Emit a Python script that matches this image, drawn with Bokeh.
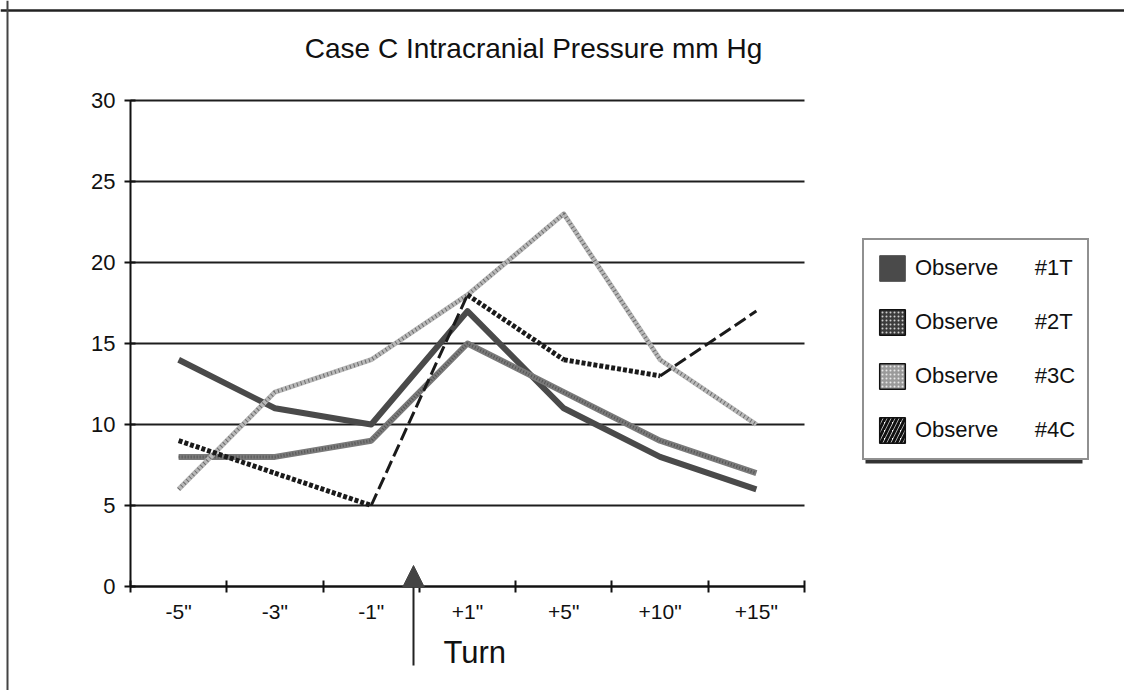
from bokeh.plotting import figure
from bokeh.models import (Range1d, FixedTicker, Legend, LegendItem, Label, Arrow,
                          NormalHead, BoxAnnotation, Span, ColumnDataSource, Grid)
from bokeh.embed import file_html
from bokeh.resources import INLINE

# ---- data -------------------------------------------------------------
categories = ['-5"', '-3"', '-1"', '+1"', '+5"', '+10"', '+15"']
obs_1t = [14, 11, 10, 17, 11, 8, 6]
obs_2t = [8, 8, 9, 15, 12, 9, 7]
obs_3c = [6, 12, 14, 18, 23, 14, 10]
obs_4c = [9, 7, 5, 18, 14, 13, 17]
y_ticks = [0, 5, 10, 15, 20, 25, 30]
series_names = ["#1T", "#2T", "#3C", "#4C"]
title_text = "Case C Intracranial Pressure mm Hg"
turn_text = "Turn"

FONT = "Liberation Sans"

# ---- page geometry (pixels) -------------------------------------------
W, H = 1124, 690
AX_L, AX_R, AX_T, AX_B = 130, 804, 100, 586   # where the chart axes sit
Y_MAX = 30
N = len(categories)

def px_x(px):
    """Page x pixel -> data x."""
    return (px - AX_L) * N / (AX_R - AX_L)

def px_y(py):
    """Page y pixel -> data y."""
    return (AX_B - py) * Y_MAX / (AX_B - AX_T)

xc = [i + 0.5 for i in range(N)]  # category centres

# the plotting frame fills the whole page; axes are pinned at x=0 / y=0
p = figure(width=W, height=H, output_backend="svg", toolbar_location=None,
           x_range=Range1d(px_x(0), px_x(W)), y_range=Range1d(px_y(H), px_y(0)),
           min_border=0, background_fill_color="white",
           border_fill_color="white", outline_line_color=None)

# ---- axes ---------------------------------------------------------------
xa = p.xaxis[0]
xa.fixed_location = 0
xa.bounds = (0, N)
xa.ticker = FixedTicker(ticks=xc, minor_ticks=list(range(N + 1)))
xa.major_label_overrides = {x: c for x, c in zip(xc, categories)}
xa.major_tick_in = 0
xa.major_tick_out = 0
xa.minor_tick_in = 6
xa.minor_tick_out = 6
xa.minor_tick_line_color = "#111"
xa.minor_tick_line_width = 2
xa.axis_line_color = "#111"
xa.axis_line_width = 2
xa.major_label_standoff = 7
xa.major_label_text_font = FONT
xa.major_label_text_font_size = "21px"
xa.major_label_text_color = "#111"

ya = p.yaxis[0]
ya.fixed_location = 0
ya.bounds = (0, Y_MAX)
ya.ticker = FixedTicker(ticks=y_ticks)
ya.minor_tick_line_color = None
ya.major_tick_in = 5
ya.major_tick_out = 6
ya.major_tick_line_color = "#111"
ya.major_tick_line_width = 2
ya.axis_line_color = "#111"
ya.axis_line_width = 2
ya.major_label_standoff = 9
ya.major_label_text_font = FONT
ya.major_label_text_font_size = "22px"
ya.major_label_text_color = "#111"

p.xgrid.visible = False
yg = p.ygrid[0]
yg.grid_line_color = "#1e1e1e"
yg.grid_line_width = 2
if "cross_bounds" in Grid.properties():
    yg.cross_bounds = (0, N)
else:
    yg.visible = False
    p.segment(x0=[0] * len(y_ticks), x1=[N] * len(y_ticks), y0=y_ticks, y1=y_ticks,
              line_color="#1e1e1e", line_width=2)

# ---- series -------------------------------------------------------------
p.line(xc, obs_1t, line_color="#4a4a4a", line_width=6, line_join="round")
p.line(xc, obs_2t, line_color="#7a7a7a", line_width=6, line_join="round")
p.line(xc, obs_2t, line_color="#555555", line_width=3, line_dash="1 2")
p.line(xc, obs_3c, line_color="#b8b8b8", line_width=5, line_join="round")
p.line(xc, obs_3c, line_color="#6a6a6a", line_width=4, line_dash="1 3")

# #4C uses a diagonal-stripe pen: rising runs look like long slashes,
# falling runs look like heavy dots
rise = dict(x0=[], y0=[], x1=[], y1=[])
fall = dict(x0=[], y0=[], x1=[], y1=[])
for i in range(N - 1):
    d = rise if obs_4c[i + 1] > obs_4c[i] else fall
    d["x0"].append(xc[i]); d["y0"].append(obs_4c[i])
    d["x1"].append(xc[i + 1]); d["y1"].append(obs_4c[i + 1])
p.segment(x0="x0", y0="y0", x1="x1", y1="y1", source=ColumnDataSource(fall),
          line_color="#1a1a1a", line_width=5, line_dash="4 2")
p.segment(x0="x0", y0="y0", x1="x1", y1="y1", source=ColumnDataSource(rise),
          line_color="#1a1a1a", line_width=3, line_dash="13 5")

# ---- legend -------------------------------------------------------------
def swatch(**kw):
    # one undrawable (NaN) row so the legend has styling to sample
    src = ColumnDataSource(dict(x=[float("nan")], y=[float("nan")]))
    return p.rect(x="x", y="y", width=1, height=1, source=src, **kw)

sw = [
    swatch(fill_color="#4a4a4a", line_color="#4a4a4a"),
    swatch(fill_color="#3c3c3c", line_color="#111", line_width=1.5,
           hatch_pattern="dot", hatch_color="#cfcfcf", hatch_scale=4, hatch_weight=1.2),
    swatch(fill_color="#9a9a9a", line_color="#111", line_width=1.5,
           hatch_pattern="dot", hatch_color="#e8e8e8", hatch_scale=4, hatch_weight=1.2),
    swatch(fill_color="white", line_color="#111", line_width=1.5,
           hatch_pattern="right_diagonal_line", hatch_color="#111",
           hatch_scale=8, hatch_weight=3),
]

LEG_L, LEG_B = 862, 460
# drop shadow under the legend box
p.add_layout(BoxAnnotation(left=px_x(LEG_L + 3), right=px_x(1082), top=px_y(241),
                           bottom=px_y(LEG_B + 3), fill_color="#333", fill_alpha=1,
                           line_color=None))

gap = "\u00a0" * 6
legend = Legend(
    items=[LegendItem(label="Observe" + gap + n, renderers=[r])
           for n, r in zip(series_names, sw)],
    location=(LEG_L, H - LEG_B),
    glyph_width=32, glyph_height=32, spacing=22, padding=12,
    label_standoff=7, margin=0,
    label_text_font=FONT, label_text_font_size="22px", label_text_color="#111",
    border_line_color="#222", border_line_width=2,
    background_fill_color="white", background_fill_alpha=1.0,
)
p.add_layout(legend)

# ---- title, turn marker, page border -----------------------------------
p.add_layout(Label(x=px_x(533), y=px_y(48), text=title_text, text_align="center",
                   text_baseline="alphabetic", text_font=FONT,
                   text_font_size="28px", text_color="#111"))

p.add_layout(Arrow(x_start=px_x(413), y_start=px_y(665),
                   x_end=px_x(413), y_end=px_y(565),
                   end=NormalHead(size=22, fill_color="#444", line_color="#444"),
                   line_color="#222", line_width=2))
p.add_layout(Label(x=px_x(443), y=px_y(652), text=turn_text,
                   text_baseline="alphabetic", text_font=FONT,
                   text_font_size="31px", text_color="#111"))

# page border: top and left edges only
p.add_layout(Span(location=px_y(10), dimension="width",
                  line_color="#222", line_width=2.5))
p.add_layout(Span(location=px_x(7), dimension="height",
                  line_color="#444", line_width=2))

open("out.html", "w").write(file_html(p, INLINE))
